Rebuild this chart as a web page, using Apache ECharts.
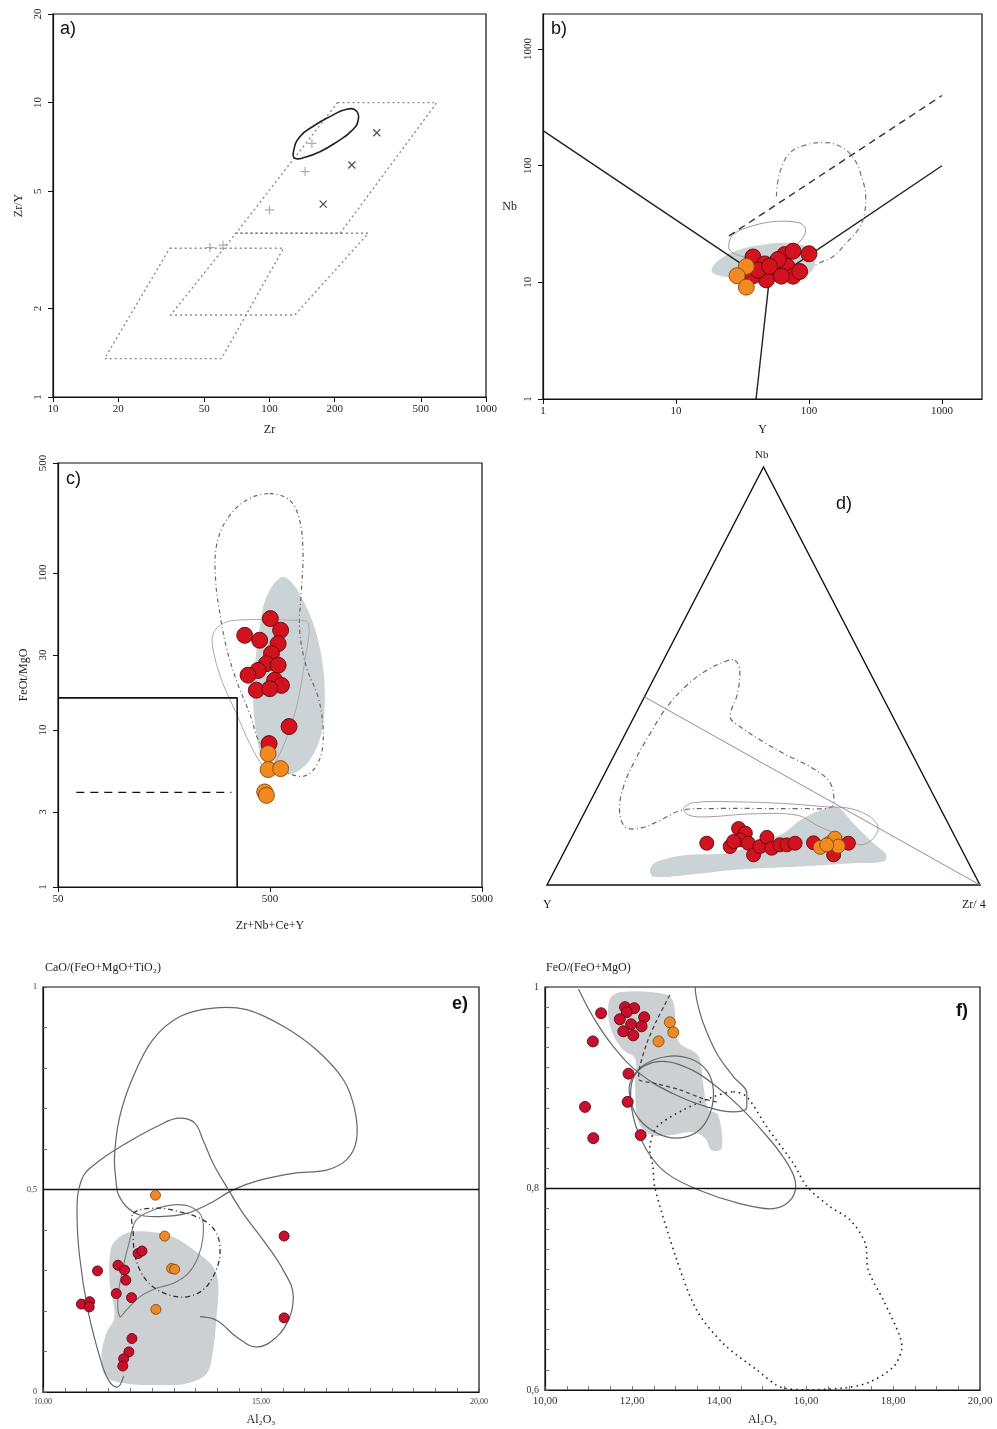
<!DOCTYPE html>
<html>
<head>
<meta charset="utf-8">
<script src="https://cdn.jsdelivr.net/npm/echarts@6/dist/echarts.min.js"></script>
<style>
  html, body { margin: 0; padding: 0; background: #fff; }
  #chart { width: 997px; height: 1429px; }
</style>
</head>
<body>
<div id="chart"></div>
<script>
// ---------- a) Zr/Y vs Zr ----------
const aTicksX = [10, 20, 50, 100, 200, 500, 1000]
const aTicksY = [1, 2, 5, 10, 20]
const aWPB = [[206, 10], [593, 10], [212, 3.6], [70, 3.6]]
const aMORB = [[70, 3.6], [286, 3.6], [131, 1.9], [35, 1.9]]
const aIAB = [[34.6, 3.2], [116, 3.2], [60, 1.35], [17.3, 1.35]]
const aEllipse = [[129, 6.81], [138, 7.66], [160, 8.33], [190, 8.96], [227, 9.49], [251, 9.39], [257, 8.73], [240, 8.03], [205, 7.36], [171, 6.81], [146, 6.52], [131, 6.47]]
const aCross = [[313, 7.9], [240, 6.14], [177, 4.52]]
const aPlus = [[146, 5.83], [100, 4.32], [53, 3.22], [61, 3.28], [157, 7.27]]

// ---------- b) Nb vs Y ----------
const bTicks = [1, 10, 100, 1000]
const bLineVAG = [[1, 200], [50, 10]]
const bLineORG = [[50, 10], [40, 1]]
const bLineWPG = [[50, 10], [1000, 100]]
const bDashed = [[25, 25], [1000, 400]]
const bDashDot = [[56.9, 54.6], [60.2, 86.6], [71.6, 128], [95.5, 151], [131, 158], [180, 142], [221, 112], [248, 81], [267, 54.6], [262, 39.3], [234, 28.3], [191, 21.8], [152, 16.7], [120, 14.7], [107, 13.7]]
const bLoop = [[25, 19.7], [26.8, 25.6], [37.9, 30.6], [56.9, 33.3], [85.1, 32.3], [94.4, 28.3], [87.7, 23.2], [71.6, 19.1], [53.6, 16.7], [37.9, 16.2], [28.5, 17.3]]
const bField = [[18.5, 12.8], [21.3, 15.7], [30.1, 19.1], [45.1, 21], [67.6, 21.8], [95.5, 20.3], [110, 16.7], [107, 12.8], [85, 10.9], [60, 10.2], [38, 10.5], [27, 10.9], [20, 11.6]]
const bRed = [[37.9, 16.5], [46.4, 14.4], [56.9, 14.2], [65.7, 17.3], [75.9, 18.5], [100, 17.6], [68.4, 13.7], [53.6, 12.0], [47.8, 10.5], [75.9, 11.3], [37.9, 11.4], [58.5, 15.7], [41.4, 12.7], [85.1, 12.4], [50.6, 13.7], [62.1, 11.3]]
const bOrange = [[33.8, 13.7], [28.8, 11.4], [33.8, 9.1]]

// ---------- c) FeOt/MgO vs Zr+Nb+Ce+Y ----------
const cTicksX = [50, 500, 5000]
const cTicksY = [1, 3, 10, 30, 100, 500]
const cFGBox = [[50, 16], [350, 16], [350, 1]]
const cOTGLine = [[61, 4], [329, 4]]
const cField = [[566, 94], [642, 85], [743, 60.6], [828, 41], [890, 25.1], [907, 15.4], [874, 9.47], [769, 6.41], [642, 5.27], [536, 5.27], [463, 6.41], [431, 9.47], [416, 15.4], [424, 25.1], [447, 45.2], [481, 70.2]]
const cDashDot = [[498, 319], [619, 290], [690, 216], [716, 132], [703, 77.4], [690, 43.1], [743, 25.1], [843, 16.2], [890, 10.4], [874, 7.06], [798, 5.53], [716, 5.07], [619, 5.27], [516, 6.1], [447, 8.18], [401, 12.7], [347, 20.7], [311, 33.7], [290, 55], [277, 89.5], [279, 146], [311, 216], [387, 290]]
const cLoop = [[284, 45.2], [323, 49.3], [431, 50.4], [619, 49.9], [757, 47.9], [730, 27.7], [667, 14.0], [576, 7.78], [498, 5.67], [455, 6.1], [401, 8.18], [347, 12.7], [300, 19.7], [274, 29.1], [267, 39]]
const cRed = [[502, 51.1], [561, 43.1], [546, 35.4], [380, 40.0], [447, 37.2], [508, 30.6], [481, 26.4], [546, 25.8], [439, 23.9], [394, 22.3], [526, 20.7], [566, 19.2], [431, 17.9], [499, 18.3], [615, 10.5], [495, 8.18]]
const cOrange = [[490, 7.06], [490, 5.59], [561, 5.67], [472, 4.03], [481, 3.83]]

// ---------- d) Nb - Y - Zr/4 ternary, [Y, Nb, Zr/4] in % ----------
const dVertices = [[100, 0, 0], [0, 0, 100], [0, 100, 0]]
const dA1A2 = [[55, 45, 0], [0, 0, 100]]
const dEdgeTicks = [[50, 50, 0], [0, 50, 50]]
const dDashDot = [[29.7, 53.8, 16.5], [29.8, 51.4, 18.8], [33.1, 45.8, 21.1], [37.6, 40.2, 22.2], [36.5, 37.9, 25.6], [33.4, 34.7, 31.9], [29.7, 31.5, 38.8], [25.1, 28.3, 46.6], [22.5, 25.1, 52.4], [22.9, 21.9, 55.2], [24.9, 18.7, 56.4], [32.4, 18.3, 49.3], [41.6, 18.3, 40.1], [51.6, 18.3, 30.1], [59.9, 17.9, 22.2], [66.1, 15.5, 18.4], [71.7, 13.6, 14.8], [75.0, 13.9, 11.1], [74.3, 17.9, 7.8], [70.6, 23.5, 5.9], [64.7, 29.9, 5.4], [58.0, 36.3, 5.7], [51.0, 42.6, 6.4], [43.8, 47.8, 8.4], [37.4, 51.4, 11.2], [31.7, 53.6, 14.7]]
const dLoop = [[59.3, 18.3, 22.4], [56.3, 19.7, 24.0], [47.0, 19.9, 33.1], [35.6, 19.5, 44.9], [26.0, 18.7, 55.3], [20.8, 18.3, 60.9], [17.2, 16.3, 66.5], [16.7, 13.6, 69.7], [19.6, 10.8, 69.6], [22.9, 9.6, 67.5], [25.2, 11.2, 63.6], [30.0, 13.9, 56.1], [33.9, 16.7, 49.4], [44.6, 17.0, 38.4], [54.9, 16.3, 28.8], [58.9, 16.7, 24.4]]
const dField = [[74.4, 3.6, 22.0], [71.8, 5.6, 22.6], [64.1, 7.2, 28.7], [54.7, 7.6, 37.7], [47.5, 9.6, 42.9], [39.2, 12.4, 48.4], [33.8, 15.5, 50.7], [28.0, 17.8, 54.2], [23.7, 18.7, 57.6], [21.9, 14.7, 63.4], [19.6, 10.0, 70.4], [18.0, 7.2, 74.8], [19.5, 5.6, 74.9], [26.6, 5.2, 68.2], [39.4, 4.4, 56.2], [55.1, 3.6, 41.3], [66.5, 2.4, 31.1], [74.4, 2.0, 23.6]]
const dRed = [[58.1, 10.0, 31.9], [53.1, 9.2, 37.7], [49.0, 13.5, 37.5], [48.0, 12.4, 39.6], [50.0, 10.8, 39.2], [51.7, 10.4, 37.9], [48.5, 10.0, 41.5], [48.7, 7.2, 44.1], [46.2, 9.2, 44.6], [43.5, 11.4, 45.1], [43.7, 8.8, 47.5], [41.4, 9.6, 49.0], [39.8, 9.6, 50.6], [37.7, 10.0, 52.3], [33.4, 10.1, 56.5], [30.2, 7.2, 62.6], [25.4, 10.0, 64.6]]
const dOrange = [[32.4, 9.0, 58.6], [29.6, 10.1, 60.3], [27.9, 11.2, 60.9], [28.1, 9.3, 62.6], [30.6, 9.6, 59.8]]

// ---------- e) CaO/(FeO+MgO+TiO2) vs Al2O3 ----------
const eXVals = [10, 15, 20]
const eXLabels = ['10,00', '15,00', '20,00']
const eYVals = [0, 0.5, 1]
const eYLabels = ['0', '0,5', '1']
const eDivider = [[10, 0.5], [20, 0.5]]
const eCalc = [[11.68, 0.515], [11.64, 0.581], [11.76, 0.68], [12.07, 0.779], [12.52, 0.87], [13.14, 0.927], [13.9, 0.948], [14.67, 0.944], [15.51, 0.903], [16.27, 0.845], [16.89, 0.771], [17.15, 0.697], [17.19, 0.622], [16.96, 0.573], [16.5, 0.548], [15.74, 0.54], [14.97, 0.523], [14.36, 0.499], [13.83, 0.466], [13.29, 0.441], [12.68, 0.433], [12.22, 0.437], [11.91, 0.458], [11.72, 0.49]]
const eAType = [[13.6, 0.186], [13.98, 0.177], [14.44, 0.136], [14.9, 0.111], [15.36, 0.136], [15.66, 0.186], [15.74, 0.235], [15.51, 0.301], [15.05, 0.375], [14.59, 0.441], [14.21, 0.507], [13.9, 0.565], [13.67, 0.622], [13.48, 0.664], [13.14, 0.676], [12.6, 0.655], [11.91, 0.614], [11.22, 0.565], [10.88, 0.523], [10.78, 0.441], [10.84, 0.334], [11.03, 0.202], [11.3, 0.087], [11.5, 0.03], [11.7, 0.012], [11.85, 0.04]]
const eInner = [[11.99, 0.375], [12.14, 0.425], [12.52, 0.449], [12.98, 0.462], [13.37, 0.458], [13.64, 0.433], [13.67, 0.383], [13.56, 0.334], [13.33, 0.293], [12.98, 0.268], [12.6, 0.256], [12.22, 0.235], [11.91, 0.202], [11.76, 0.186], [11.72, 0.235], [11.84, 0.309]]
const eDashDot = [[12.07, 0.441], [12.6, 0.454], [13.14, 0.445], [13.67, 0.425], [13.98, 0.392], [14.06, 0.342], [13.94, 0.293], [13.67, 0.252], [13.29, 0.235], [12.91, 0.239], [12.52, 0.26], [12.26, 0.293], [12.1, 0.342], [12.07, 0.392]]
const eField = [[11.61, 0.367], [11.91, 0.392], [12.37, 0.396], [12.98, 0.383], [13.52, 0.346], [13.9, 0.309], [14.02, 0.268], [13.98, 0.186], [13.9, 0.103], [13.75, 0.045], [13.29, 0.021], [12.6, 0.017], [11.91, 0.021], [11.45, 0.037], [11.34, 0.087], [11.45, 0.144], [11.64, 0.186], [11.53, 0.268], [11.53, 0.334]]
const eRed = [[10.88, 0.217], [11.07, 0.223], [11.06, 0.21], [11.25, 0.299], [11.72, 0.313], [11.87, 0.301], [11.9, 0.276], [11.68, 0.243], [12.03, 0.233], [12.18, 0.342], [12.27, 0.348], [12.04, 0.132], [11.97, 0.099], [11.85, 0.082], [11.83, 0.064], [15.53, 0.385], [15.53, 0.183]]
const eOrange = [[12.58, 0.486], [12.79, 0.385], [12.95, 0.305], [13.02, 0.303], [12.59, 0.204]]

// ---------- f) FeO/(FeO+MgO) vs Al2O3 ----------
const fXVals = [10, 12, 14, 16, 18, 20]
const fXLabels = ['10,00', '12,00', '14,00', '16,00', '18,00', '20,00']
const fYVals = [0.6, 0.8, 1]
const fYLabels = ['0,6', '0,8', '1']
const fDivider = [[10, 0.8], [20, 0.8]]
const fReduced = [[10.77, 0.998], [11.11, 0.97], [11.57, 0.941], [12.18, 0.914], [12.95, 0.894], [13.72, 0.881], [14.33, 0.876], [14.64, 0.881], [14.64, 0.894], [14.33, 0.911], [13.95, 0.934], [13.64, 0.964], [13.49, 0.987], [13.45, 1.0]]
const fCircle = [[11.95, 0.904], [12.26, 0.922], [12.8, 0.931], [13.33, 0.929], [13.72, 0.917], [13.87, 0.898], [13.79, 0.874], [13.49, 0.856], [13.03, 0.85], [12.57, 0.855], [12.18, 0.868], [11.99, 0.884]]
const fOxidized = [[11.99, 0.904], [12.03, 0.871], [12.34, 0.838], [12.8, 0.815], [13.56, 0.798], [14.48, 0.785], [15.25, 0.78], [15.67, 0.79], [15.75, 0.808], [15.48, 0.831], [15.02, 0.856], [14.48, 0.881], [13.95, 0.901], [13.41, 0.917], [12.8, 0.926], [12.26, 0.921]]
const fCalc = [[14.33, 0.896], [14.64, 0.891], [15.1, 0.861], [15.71, 0.825], [16.02, 0.802], [16.55, 0.782], [17.01, 0.769], [17.36, 0.746], [17.43, 0.719], [17.78, 0.689], [18.16, 0.653], [18.2, 0.64], [18.01, 0.623], [17.47, 0.608], [16.86, 0.602], [15.48, 0.602], [14.87, 0.62], [14.1, 0.646], [13.49, 0.679], [13.03, 0.729], [12.53, 0.8], [12.48, 0.822], [12.41, 0.841], [12.57, 0.861], [13.18, 0.878], [13.87, 0.891]]
const fDashed = [[12.87, 0.992], [12.57, 0.967], [12.34, 0.944], [12.18, 0.921], [12.15, 0.909], [12.57, 0.904], [13.1, 0.898], [13.64, 0.889], [13.95, 0.886]]
const fField = [[11.49, 0.988], [11.76, 0.995], [12.76, 0.993], [12.95, 0.985], [13.07, 0.946], [13.52, 0.932], [13.64, 0.903], [13.75, 0.879], [13.98, 0.873], [14.06, 0.84], [13.83, 0.838], [13.68, 0.85], [13.37, 0.856], [12.91, 0.853], [12.45, 0.853], [12.15, 0.866], [12.07, 0.903], [12.07, 0.929], [11.76, 0.939], [11.49, 0.962]]
const fRed = [[11.29, 0.974], [11.84, 0.98], [12.05, 0.979], [11.88, 0.975], [11.72, 0.968], [11.98, 0.963], [12.28, 0.97], [12.22, 0.961], [11.8, 0.956], [12.03, 0.952], [11.1, 0.946], [11.92, 0.914], [11.9, 0.886], [10.92, 0.881], [12.2, 0.853], [11.11, 0.85]]
const fOrange = [[12.87, 0.965], [12.95, 0.955], [12.61, 0.946]]

// ---------- helpers ----------
const SERIF = 'Liberation Serif'
const SANS = 'Liberation Sans'
const lg = Math.log10
const toLog = pts => pts.map(p => [lg(p[0]), lg(p[1])])
const tern = pts => pts.map(p => {
  const s = p[0] + p[1] + p[2]
  const nb = p[1] / s
  const zr = p[2] / s
  return [zr + nb / 2, nb]
})

const DASHDOT = [5, 3, 1, 3]

// straight or open curved line
function line (gi, pts, color, width, type, smooth, z) {
  return {
    type: 'line',
    xAxisIndex: gi,
    yAxisIndex: gi,
    data: pts,
    symbol: 'none',
    silent: true,
    smooth: smooth || false,
    lineStyle: { color: color, width: width, type: type || 'solid' },
    z: z || 3
  }
}

// closed smooth outline (or filled field) drawn as one polygon
function shape (gi, pts, style, z) {
  return {
    type: 'custom',
    xAxisIndex: gi,
    yAxisIndex: gi,
    data: [pts[0]],
    silent: true,
    z: z || 3,
    renderItem: function (params, api) {
      return {
        type: 'polygon',
        shape: { points: pts.map(p => api.coord(p)), smooth: style.smooth == null ? 0.35 : style.smooth },
        style: {
          fill: style.fill || 'none',
          opacity: style.opacity == null ? 1 : style.opacity,
          stroke: style.stroke || null,
          lineWidth: style.lineWidth || 1,
          lineDash: style.lineDash || null
        }
      }
    }
  }
}

const field = (gi, pts, fill) => shape(gi, pts, { fill: fill, opacity: 0.9 }, 2)
const outline = (gi, pts, stroke, w, dash, smooth) => shape(gi, pts, { stroke: stroke, lineWidth: w, lineDash: dash, smooth: smooth })

function dots (gi, pts, fill, border, size) {
  return {
    type: 'scatter',
    xAxisIndex: gi,
    yAxisIndex: gi,
    data: pts,
    symbolSize: size,
    silent: true,
    z: 6,
    itemStyle: { color: fill, borderColor: border, borderWidth: 0.9, opacity: 1 }
  }
}

function marks (gi, pts, path, color, size) {
  return {
    type: 'scatter',
    xAxisIndex: gi,
    yAxisIndex: gi,
    data: pts,
    symbol: path,
    symbolSize: size,
    silent: true,
    z: 5,
    itemStyle: { color: 'transparent', borderColor: color, borderWidth: 1.2 }
  }
}

function text (gi, pos, str, size, extra) {
  return {
    type: 'scatter',
    xAxisIndex: gi,
    yAxisIndex: gi,
    data: [pos],
    symbolSize: 1,
    silent: true,
    z: 7,
    itemStyle: { opacity: 0 },
    label: Object.assign({
      show: true,
      position: 'inside',
      formatter: str,
      fontFamily: SERIF,
      fontSize: size,
      color: '#222',
      lineHeight: size + 2,
      align: 'center'
    }, extra || {})
  }
}

function logLabel (ticks, rotate) {
  return {
    customValues: ticks.map(lg),
    formatter: v => String(Math.round(Math.pow(10, v))),
    rotate: rotate || 0,
    fontFamily: SERIF,
    fontSize: 11,
    color: '#222',
    margin: rotate ? 9 : 7
  }
}

function logAxis (gi, min, max, ticks, name, opts) {
  return Object.assign({
    type: 'value',
    gridIndex: gi,
    min: lg(min),
    max: lg(max),
    splitLine: { show: false },
    axisLine: { show: true, onZero: false, lineStyle: { color: '#111', width: 1.2 } },
    axisTick: { show: true, length: 5, customValues: ticks.map(lg), lineStyle: { color: '#111' } },
    axisLabel: logLabel(ticks),
    name: name,
    nameLocation: 'middle',
    nameTextStyle: { fontFamily: SERIF, fontSize: 12, color: '#222' }
  }, opts || {})
}

function stepTicks (from, to, step) {
  const out = []
  for (let v = from; v <= to + 1e-9; v += step) out.push(+v.toFixed(4))
  return out
}

function linAxis (gi, min, max, vals, labels, minor, name, fontSize, opts) {
  return Object.assign({
    type: 'value',
    gridIndex: gi,
    min: min,
    max: max,
    splitLine: { show: false },
    axisLine: { show: true, onZero: false, lineStyle: { color: '#111', width: 1.2 } },
    axisTick: { show: true, inside: true, length: 4, customValues: minor, lineStyle: { color: '#555', width: 0.8 } },
    axisLabel: {
      customValues: vals,
      formatter: v => labels[vals.indexOf(v)] || '',
      fontFamily: SERIF,
      fontSize: fontSize,
      color: '#333',
      margin: 6
    },
    name: name,
    nameLocation: 'middle',
    nameTextStyle: { fontFamily: SERIF, fontSize: 12, color: '#222' }
  }, opts || {})
}

const gridBox = { show: true, borderColor: '#111', borderWidth: 1.2, backgroundColor: 'transparent', outerBoundsMode: 'none' }

const RED = '#d3121f'
const RED_B = '#5e0a0a'
const ORG = '#f18a20'
const ORG_B = '#8a4810'
const FIELD = '#c5ced3'

const plusPath = 'path://M5,0 L5,10 M0,5 L10,5'
const crossPath = 'path://M0,0 L10,10 M10,0 L0,10'
const tickPath = 'path://M0,5 L10,5'

const option = {
  backgroundColor: '#fff',
  animation: false,
  grid: [
    Object.assign({ left: 53, top: 14, width: 433, height: 383 }, gridBox),
    Object.assign({ left: 543, top: 14, width: 439, height: 385 }, gridBox),
    Object.assign({ left: 58, top: 463, width: 424, height: 424 }, gridBox),
    { left: 547, top: 467, width: 433, height: 418, show: false, outerBoundsMode: 'none' },
    Object.assign({ left: 43, top: 987, width: 436, height: 405 }, gridBox),
    Object.assign({ left: 545, top: 987, width: 435, height: 403 }, gridBox)
  ],
  xAxis: [
    logAxis(0, 10, 1000, aTicksX, 'Zr', { nameGap: 27 }),
    logAxis(1, 1, 2000, bTicks, 'Y', { nameGap: 25 }),
    logAxis(2, 50, 5000, cTicksX, 'Zr+Nb+Ce+Y', { nameGap: 33 }),
    { type: 'value', gridIndex: 3, min: 0, max: 1, show: false },
    linAxis(4, 10, 20, eXVals, eXLabels, stepTicks(10, 20, 0.5), 'Al₂O₃', 8, { nameGap: 22 }),
    linAxis(5, 10, 20, fXVals, fXLabels, stepTicks(10, 20, 0.5), 'Al₂O₃', 11, { nameGap: 24 })
  ],
  yAxis: [
    logAxis(0, 1, 20, aTicksY, 'Zr/Y', { nameGap: 28, axisLabel: logLabel(aTicksY, 90) }),
    logAxis(1, 1, 2000, bTicks, 'Nb', { nameGap: 26, nameRotate: 0, axisLabel: logLabel(bTicks, 90) }),
    logAxis(2, 1, 500, cTicksY, 'FeOt/MgO', { nameGap: 28, axisLabel: logLabel(cTicksY, 90) }),
    { type: 'value', gridIndex: 3, min: 0, max: 1, show: false },
    linAxis(4, 0, 1, eYVals, eYLabels, stepTicks(0, 1, 0.1), '', 8),
    linAxis(5, 0.6, 1, fYVals, fYLabels, stepTicks(0.6, 1, 0.02), '', 10)
  ],
  graphic: [
    { type: 'text', left: 60, top: 20, style: { text: 'a)', font: '18px ' + SANS, fill: '#111' } },
    { type: 'text', left: 551, top: 20, style: { text: 'b)', font: '18px ' + SANS, fill: '#111' } },
    { type: 'text', left: 66, top: 470, style: { text: 'c)', font: '18px ' + SANS, fill: '#111' } },
    { type: 'text', left: 836, top: 495, style: { text: 'd)', font: '18px ' + SANS, fill: '#111' } },
    { type: 'text', left: 452, top: 995, style: { text: 'e)', font: 'bold 18px ' + SANS, fill: '#111' } },
    { type: 'text', left: 956, top: 1002, style: { text: 'f)', font: 'bold 18px ' + SANS, fill: '#111' } },
    { type: 'text', left: 755, top: 450, style: { text: 'Nb', font: '11px ' + SERIF, fill: '#222' } },
    { type: 'text', left: 543, top: 899, style: { text: 'Y', font: '12px ' + SERIF, fill: '#222' } },
    { type: 'text', left: 962, top: 899, style: { text: 'Zr/ 4', font: '12px ' + SERIF, fill: '#222' } },
    { type: 'text', left: 45, top: 962, style: { text: 'CaO/(FeO+MgO+TiO₂)', font: '12px ' + SERIF, fill: '#222' } },
    { type: 'text', left: 546, top: 962, style: { text: 'FeO/(FeO+MgO)', font: '12px ' + SERIF, fill: '#222' } }
  ],
  series: [
    // a
    outline(0, toLog(aWPB), '#8a8a8a', 1.4, [2, 3], 0),
    outline(0, toLog(aMORB), '#8a8a8a', 1.4, [2, 3], 0),
    outline(0, toLog(aIAB), '#8a8a8a', 1.4, [2, 3], 0),
    outline(0, toLog(aEllipse), '#222', 1.6, null, 0.5),
    marks(0, toLog(aCross), crossPath, '#222', 7),
    marks(0, toLog(aPlus), plusPath, '#999', 9),
    text(0, toLog([[16.8, 2.19]])[0], 'Island Arc\nBasalts', 12),
    text(0, toLog([[265, 2.25]])[0], 'Mid-Ocean\nRidge Basalts', 12),
    text(0, toLog([[589, 5.68]])[0], 'Within-Plate\nBasalts', 12),

    // b
    field(1, toLog(bField), FIELD),
    line(1, toLog(bLineVAG), '#222', 1.4),
    line(1, toLog(bLineORG), '#222', 1.4),
    line(1, toLog(bLineWPG), '#222', 1.4),
    line(1, toLog(bDashed), '#333', 1.4, [7, 5]),
    line(1, toLog(bDashDot), '#777', 1.2, DASHDOT, 0.4),
    outline(1, toLog(bLoop), '#9a9a9a', 1),
    dots(1, toLog(bRed), RED, RED_B, 16),
    dots(1, toLog(bOrange), ORG, ORG_B, 16),
    text(1, toLog([[19.2, 192]])[0], 'WPG', 9, { fontWeight: 'bold' }),
    text(1, toLog([[4.64, 22.3]])[0], 'VAG+\nsyn-COLG', 9, { fontWeight: 'bold', lineHeight: 10 }),
    text(1, toLog([[780, 2.81]])[0], 'ORG', 9, { fontWeight: 'bold' }),

    // c
    field(2, toLog(cField), FIELD),
    line(2, toLog(cFGBox), '#111', 1.6),
    line(2, toLog(cOTGLine), '#111', 1.4, [8, 6]),
    outline(2, toLog(cDashDot), '#666', 1.2, [4, 3, 1, 3]),
    outline(2, toLog(cLoop), '#aaa', 1, null, 0.3),
    dots(2, toLog(cRed), RED, RED_B, 16),
    dots(2, toLog(cOrange), ORG, ORG_B, 16),
    text(2, toLog([[125, 7.41]])[0], 'FG', 18),
    text(2, toLog([[130, 1.85]])[0], 'OTG', 18),
    text(2, toLog([[2333, 14.6]])[0], 'A', 18),

    // d
    field(3, tern(dField), FIELD),
    outline(3, tern(dVertices), '#111', 1.4, null, 0),
    line(3, tern(dA1A2), '#a08888', 1),
    marks(3, tern(dEdgeTicks), tickPath, '#555', 6),
    outline(3, tern(dDashDot), '#666', 1.2, DASHDOT),
    outline(3, tern(dLoop), '#b09a9a', 1),
    dots(3, tern(dRed), RED, RED_B, 14),
    dots(3, tern(dOrange), ORG, ORG_B, 14),
    text(3, tern([[12.9, 55.8, 31.3]])[0], 'A1', 20),
    text(3, tern([[86.5, 4.0, 9.5]])[0], 'A2', 20),

    // e
    field(4, eField, '#c7cbce'),
    line(4, eDivider, '#111', 1.5),
    outline(4, eCalc, '#666', 1.2),
    line(4, eAType, '#666', 1.2, 'solid', 0.4),
    outline(4, eInner, '#777', 1.1),
    outline(4, eDashDot, '#333', 1.3, DASHDOT),
    dots(4, eRed, '#c8102e', RED_B, 10),
    dots(4, eOrange, '#ec8a2a', ORG_B, 10),
    text(4, [14.47, 0.767], 'Calc Alkaline', 12),
    text(4, [14.86, 0.2], 'A Type', 12),

    // f
    field(5, fField, '#c7cbce'),
    line(5, fDivider, '#111', 1.5),
    line(5, fReduced, '#666', 1.2, 'solid', 0.4),
    outline(5, fCircle, '#666', 1.2),
    outline(5, fOxidized, '#666', 1.2),
    outline(5, fCalc, '#222', 1.6, [1.5, 4], 0.3),
    line(5, fDashed, '#444', 1.3, [4, 3], 0.3),
    dots(5, fRed, '#c8102e', RED_B, 11),
    dots(5, fOrange, '#ec8a2a', ORG_B, 11),
    text(5, [13.91, 0.9555], 'Reduced A-type', 12, { rotate: -58 }),
    text(5, [14.32, 0.8116], 'Oxidized A-type', 12),
    text(5, [15.52, 0.706], 'Calc Alkaline', 12)
  ]
}

const chart = echarts.init(document.getElementById('chart'), null, { renderer: 'canvas' })
chart.setOption(option)
</script>
</body>
</html>
